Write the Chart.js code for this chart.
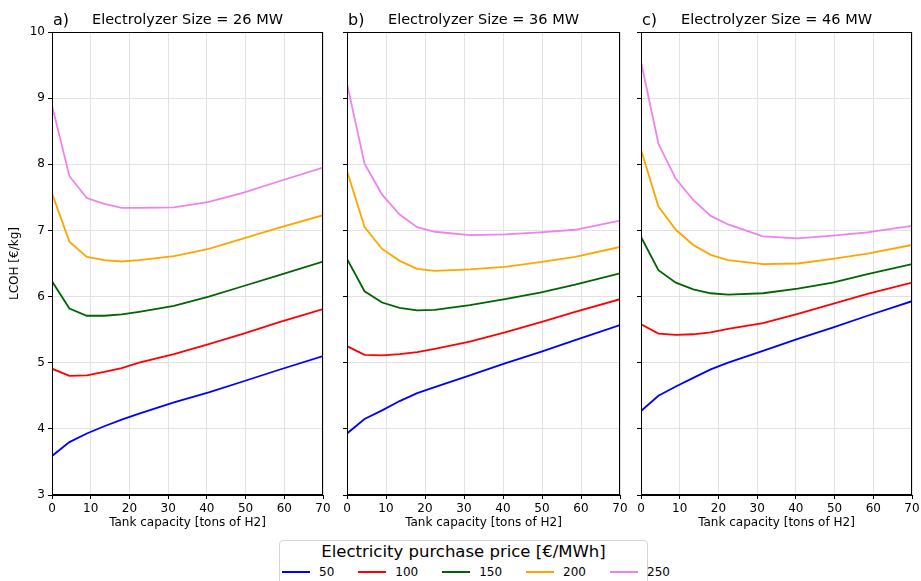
<!DOCTYPE html>
<html>
<head>
<meta charset="utf-8">
<script src="https://cdn.jsdelivr.net/npm/chart.js@4.4.1/dist/chart.umd.min.js"></script>
<style>
body { margin: 0; background: #fff; width: 921px; height: 581px; overflow: hidden; position: relative; font-family: "DejaVu Sans", sans-serif; }
canvas { position: absolute; top: 0; }
#legend { position: absolute; left: 279px; top: 540px; width: 369px; height: 60px; box-sizing: border-box; border: 1px solid #d4d4d4; border-radius: 4px; background: #fff; }
#legend .ltitle { text-align: center; font-size: 16.5px; line-height: 19px; margin-top: 1px; color: #000; }
#legend .litems { position: absolute; left: 2px; top: 24px; display: flex; align-items: center; }
.litem { display: flex; align-items: center; margin-right: 24px; font-size: 12px; color: #000; }
.litem .swatch { width: 28px; height: 2px; margin-right: 9px; }
</style>
</head>
<body>
<canvas id="chartA" width="330" height="540" style="left:0px"></canvas>
<canvas id="chartB" width="297" height="540" style="left:330px"></canvas>
<canvas id="chartC" width="294" height="540" style="left:627px"></canvas>
<div id="legend"><div class="ltitle">Electricity purchase price [€/MWh]</div><div class="litems" id="legendItems"></div></div>
<script>
// tank capacity [tons of H2]
const tankCapacity = [0, 4.5, 9, 13.5, 18, 22.5, 31.5, 40.5, 49.5, 58.5, 70];
const prices = ['50', '100', '150', '200', '250'];
const lineColors = ['#0000ff', '#ff0000', '#006400', '#ffa500', '#ee82ee'];
const panelLetters = ['a)', 'b)', 'c)'];
const electrolyzerSizes = ['26', '36', '46'];
const yTicks = [3, 4, 5, 6, 7, 8, 9, 10];
const xTicks = [0, 10, 20, 30, 40, 50, 60, 70];

// LCOH [€/kg], one row per price (50..250)
const lcoh26 = [
    [3.59, 3.80, 3.93, 4.04, 4.14, 4.23, 4.40, 4.55, 4.72, 4.89, 5.10],
    [4.91, 4.80, 4.81, 4.86, 4.92, 5.00, 5.13, 5.28, 5.44, 5.61, 5.81],
    [6.23, 5.82, 5.71, 5.71, 5.73, 5.77, 5.86, 6.00, 6.16, 6.32, 6.53],
    [7.56, 6.83, 6.60, 6.55, 6.53, 6.55, 6.61, 6.72, 6.88, 7.04, 7.23],
    [8.89, 7.82, 7.49, 7.40, 7.34, 7.34, 7.35, 7.43, 7.57, 7.74, 7.95]
];
const lcoh36 = [
    [3.93, 4.15, 4.28, 4.42, 4.54, 4.63, 4.81, 4.99, 5.16, 5.34, 5.57],
    [5.25, 5.12, 5.11, 5.13, 5.16, 5.21, 5.32, 5.46, 5.61, 5.77, 5.96],
    [6.57, 6.08, 5.91, 5.83, 5.79, 5.80, 5.87, 5.96, 6.06, 6.18, 6.35],
    [7.90, 7.05, 6.72, 6.54, 6.42, 6.39, 6.41, 6.45, 6.52, 6.60, 6.75],
    [9.22, 8.01, 7.54, 7.24, 7.05, 6.98, 6.93, 6.94, 6.97, 7.01, 7.15]
];
const lcoh46 = [
    [4.27, 4.50, 4.64, 4.77, 4.90, 5.00, 5.18, 5.36, 5.53, 5.71, 5.93],
    [5.58, 5.44, 5.42, 5.43, 5.46, 5.51, 5.60, 5.74, 5.89, 6.04, 6.21],
    [6.90, 6.40, 6.21, 6.11, 6.05, 6.03, 6.05, 6.12, 6.21, 6.34, 6.49],
    [8.22, 7.36, 7.01, 6.78, 6.63, 6.55, 6.49, 6.50, 6.57, 6.65, 6.78],
    [9.55, 8.31, 7.78, 7.46, 7.22, 7.09, 6.91, 6.88, 6.92, 6.97, 7.07]
];

Chart.defaults.font.family = '"DejaVu Sans", sans-serif';
Chart.defaults.font.size = 12;
Chart.defaults.color = '#000';

// panel letter, title and full black frame round the plot area
const panelDecor = {
    id: 'panelDecor',
    afterDraw(chart, args, opts) {
        const {ctx, chartArea} = chart;
        ctx.save();
        ctx.strokeStyle = '#000';
        ctx.lineWidth = 1;
        ctx.strokeRect(chartArea.left + 0.5, chartArea.top + 0.5, chartArea.right - chartArea.left - 1, chartArea.bottom - chartArea.top - 1);
        ctx.fillStyle = '#000';
        ctx.textBaseline = 'alphabetic';
        ctx.textAlign = 'left';
        ctx.font = '16px "DejaVu Sans"';
        ctx.fillText(opts.letter, chartArea.left + 1, 25);
        ctx.font = '14.5px "DejaVu Sans"';
        ctx.textAlign = 'center';
        ctx.fillText(opts.title, (chartArea.left + chartArea.right) / 2, 24);
        ctx.restore();
    }
};

// keep the plot area where the layout padding puts it
function noLabelPadding(s) {
    s.paddingLeft = 0;
    s.paddingRight = 0;
    s.paddingTop = 0;
    s.paddingBottom = 0;
}

function makePanel(id, idx, values, yWidth, padRight, showY) {
    const datasets = values.map((row, i) => ({
        label: prices[i],
        data: row.map((v, j) => ({x: tankCapacity[j], y: v})),
        borderColor: lineColors[i],
        backgroundColor: lineColors[i],
        borderWidth: 1.8,
        pointRadius: 0,
        tension: 0,
        fill: false
    }));
    return new Chart(document.getElementById(id), {
        type: 'line',
        data: {datasets: datasets},
        options: {
            responsive: false,
            animation: false,
            devicePixelRatio: 1,
            layout: {padding: {left: 0, right: padRight, top: 32, bottom: 0}},
            plugins: {
                legend: {display: false},
                tooltip: {enabled: false},
                panelDecor: {letter: panelLetters[idx], title: 'Electrolyzer Size = ' + electrolyzerSizes[idx] + ' MW'}
            },
            scales: {
                x: {
                    type: 'linear',
                    min: 0, max: 70,
                    afterBuildTicks: s => { s.ticks = xTicks.map(v => ({value: v})); },
                    afterFit: s => { s.height = 45; noLabelPadding(s); },
                    ticks: {maxRotation: 0, padding: 3},
                    grid: {color: '#e2e2e2', tickColor: '#000', tickLength: 4},
                    border: {color: '#000'},
                    title: {display: true, text: 'Tank capacity [tons of H2]', padding: {top: 0, bottom: 10}}
                },
                y: {
                    type: 'linear',
                    min: 3, max: 10,
                    afterBuildTicks: s => { s.ticks = yTicks.map(v => ({value: v})); },
                    afterFit: s => { s.width = yWidth; noLabelPadding(s); },
                    ticks: {padding: 3, callback: v => showY ? String(v) : ''},
                    grid: {color: '#e2e2e2', tickColor: '#000', tickLength: 4},
                    border: {color: '#000'},
                    title: {display: showY, text: 'LCOH [€/kg]', padding: {top: 8, bottom: 0}}
                }
            }
        },
        plugins: [panelDecor]
    });
}

makePanel('chartA', 0, lcoh26, 52, 7, true);
makePanel('chartB', 1, lcoh36, 17, 7, false);
makePanel('chartC', 2, lcoh46, 14, 9, false);

// legend built from the same arrays
const legendItems = document.getElementById('legendItems');
prices.forEach((p, i) => {
    const item = document.createElement('div');
    item.className = 'litem';
    const sw = document.createElement('div');
    sw.className = 'swatch';
    sw.style.background = lineColors[i];
    const txt = document.createElement('span');
    txt.textContent = p;
    item.appendChild(sw);
    item.appendChild(txt);
    legendItems.appendChild(item);
});
</script>
</body>
</html>
